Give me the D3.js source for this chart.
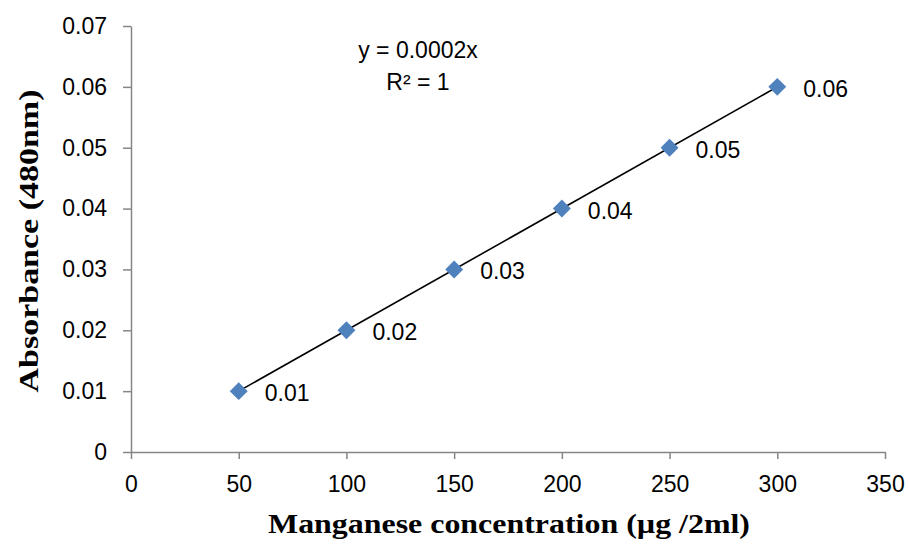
<!DOCTYPE html>
<html lang="en">
<head>
<meta charset="UTF-8">
<title>Manganese calibration</title>
<script src="https://d3js.org/d3.v7.min.js"></script>
<style>
  body { margin: 0; background: #fff; }
  .tick text { font-family: "Liberation Sans", Arial, sans-serif; font-size: 23px; fill: #000; }
  .axis path, .axis line { stroke: #868686; stroke-width: 1.5px; }
  .title { font-family: "Liberation Serif", "Times New Roman", serif; font-weight: bold; font-size: 28px; fill: #000; }
  .lbl { font-family: "Liberation Sans", Arial, sans-serif; font-size: 23px; fill: #000; }
</style>
</head>
<body>
<div id="chart"></div>
<script>
const concentration = [50, 100, 150, 200, 250, 300];
const absorbance = [0.01, 0.02, 0.03, 0.04, 0.05, 0.06];
const xTicks = [0, 50, 100, 150, 200, 250, 300, 350];
const yTicks = [0, 0.01, 0.02, 0.03, 0.04, 0.05, 0.06, 0.07];
const slope = 0.0002;

const width = 909, height = 546;
const margin = {left: 131, right: 24, top: 26, bottom: 94};

const svg = d3.select("#chart").append("svg")
    .attr("width", width)
    .attr("height", height);

const x = d3.scaleLinear().domain([0, 350]).range([margin.left, width - margin.right]);
const y = d3.scaleLinear().domain([0, 0.07]).range([height - margin.bottom, margin.top]);

svg.append("g")
    .attr("class", "axis")
    .attr("transform", `translate(0,${y(0)})`)
    .call(d3.axisBottom(x).tickValues(xTicks).tickSize(7).tickSizeOuter(0).tickPadding(17).tickFormat(d3.format("d")));

svg.append("g")
    .attr("class", "axis")
    .attr("transform", `translate(${x(0)},0)`)
    .call(d3.axisLeft(y).tickValues(yTicks).tickSize(8).tickSizeOuter(0).tickPadding(16)
        .tickFormat(d => d === 0 ? "0" : d3.format(".2f")(d)));

// trendline
svg.append("line")
    .attr("x1", x(50)).attr("y1", y(slope * 50))
    .attr("x2", x(300)).attr("y2", y(slope * 300))
    .attr("stroke", "#000").attr("stroke-width", 1.6);

const pts = concentration.map((c, i) => ({c, a: absorbance[i]}));

svg.append("g").selectAll("path")
    .data(pts)
    .enter()
    .append("path")
    .attr("d", d3.symbol().type(d3.symbolDiamond2).size(205))
    .attr("transform", d => `translate(${x(d.c)},${y(d.a)})`)
    .attr("fill", "#4F81BD");

svg.append("g").selectAll("text")
    .data(pts)
    .enter()
    .append("text")
    .attr("class", "lbl")
    .attr("x", d => x(d.c) + 26)
    .attr("y", d => y(d.a) + 10)
    .text(d => d3.format(".2f")(d.a));

// equation
svg.append("text").attr("class", "lbl").attr("text-anchor", "middle")
    .attr("x", 418).attr("y", 58).text("y = 0.0002x");
svg.append("text").attr("class", "lbl").attr("text-anchor", "middle")
    .attr("x", 418).attr("y", 90).text("R² = 1");

// axis titles
svg.append("text").attr("class", "title").attr("text-anchor", "middle")
    .attr("x", 509).attr("y", 533)
    .attr("textLength", 482).attr("lengthAdjust", "spacingAndGlyphs")
    .text("Manganese concentration (µg /2ml)");

svg.append("text").attr("class", "title").attr("text-anchor", "middle")
    .attr("transform", "translate(38,241) rotate(-90)")
    .attr("textLength", 303).attr("lengthAdjust", "spacingAndGlyphs")
    .text("Absorbance (480nm)");
</script>
</body>
</html>
